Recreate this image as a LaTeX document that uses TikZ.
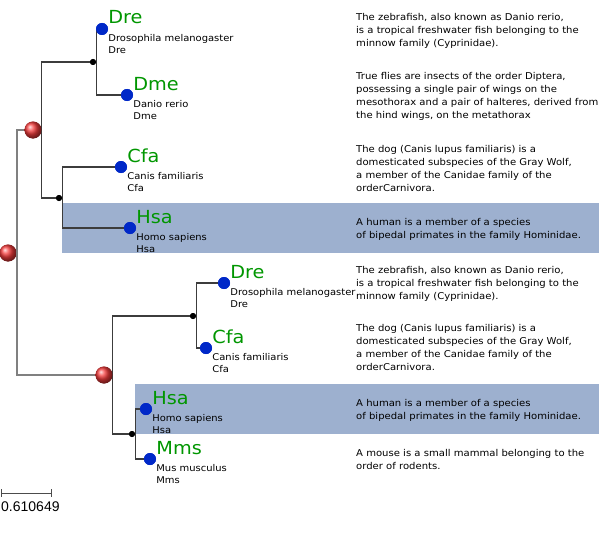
\documentclass[tikz,border=0pt]{standalone}
\usepackage{fontspec}
\setmainfont{DejaVu Sans}
\newfontfamily\widefont[FakeStretch=1.07]{DejaVu Sans}
\newfontfamily\barfont{Liberation Sans}
\usetikzlibrary{positioning}
\definecolor{leafblue}{RGB}{0,40,200}
\definecolor{namegreen}{RGB}{0,150,0}
\definecolor{hilite}{RGB}{157,176,207}
\definecolor{branch}{RGB}{60,60,60}
\definecolor{dupred}{RGB}{245,60,60}
\begin{document}
\begin{tikzpicture}[x=1pt,y=-1pt,
  leaf/.style={circle,fill=leafblue,inner sep=0,minimum size=12pt},
  spec/.style={circle,fill=black,inner sep=0,minimum size=6pt},
  dup/.style={circle,shading=ball,ball color=dupred,inner sep=0,minimum size=17pt},
  br/.style={draw=branch,line width=1.1pt},
  rootbr/.style={draw=gray,line width=2pt},
  bigname/.style={text=namegreen,font=\widefont\fontsize{18}{18}\selectfont,inner sep=0,anchor=base west},
  info/.style={font=\widefont\fontsize{9.3}{11.5}\selectfont,align=left,inner sep=0,anchor=north west},
  desc/.style={font=\widefont\fontsize{9.4}{13}\selectfont,align=left,inner sep=0,anchor=north west}]
\useasboundingbox (0,0) rectangle (600,535);
% highlighted rows
\fill[hilite] (62,203) rectangle (599,253);
\fill[hilite] (135,384) rectangle (599,434);
% tree nodes
\node[dup] (root) at (8,253) {};
\node[dup] (dupA) at (33,130) {};
\node[dup] (dupB) at (104,375) {};
\node[spec] (spA) at (93,62) {};
\node[spec] (spB) at (59,198) {};
\node[spec] (spC) at (193,316) {};
\node[spec] (spD) at (132,434) {};
\node[leaf] (dreA) at (102,29) {};
\node[leaf] (dmeA) at (127,95) {};
\node[leaf] (cfaA) at (121,167) {};
\node[leaf] (hsaA) at (130,228) {};
\node[leaf] (dreB) at (224,283) {};
\node[leaf] (cfaB) at (206,348) {};
\node[leaf] (hsaB) at (146,409) {};
\node[leaf] (mmsB) at (150,459) {};
% branches
\draw[rootbr] (root.east) |- (dupA) (root.east) |- (dupB);
\draw[br] (dupA.east) |- (spA) (dupA.east) |- (spB);
\draw[br] (spA.east) |- (dreA) (spA.east) |- (dmeA);
\draw[br] (spB.east) |- (cfaA) (spB.east) |- (hsaA);
\draw[br] (dupB.east) |- (spC) (dupB.east) |- (spD);
\draw[br] (spC.east) |- (dreB) (spC.east) |- (cfaB);
\draw[br] (spD.east) |- (hsaB) (spD.east) |- (mmsB);
% nodes again, over the branches
\foreach \d in {root,dupA,dupB}
  \node[dup] at (\d) {};
\foreach \s in {spA,spB,spC,spD}
  \node[spec] at (\s) {};
\foreach \l in {dreA,dmeA,cfaA,hsaA,dreB,cfaB,hsaB,mmsB}
  \node[leaf] at (\l) {};
% leaf labels
\node[bigname] at ([yshift=5pt]dreA.east) {Dre};
\node[info] at ([yshift=-5.4pt]dreA.east) {Drosophila melanogaster\\Dre};
\node[bigname] at ([yshift=5pt]dmeA.east) {Dme};
\node[info] at ([yshift=-5.4pt]dmeA.east) {Danio rerio\\Dme};
\node[bigname] at ([yshift=5pt]cfaA.east) {Cfa};
\node[info] at ([yshift=-5.4pt]cfaA.east) {Canis familiaris\\Cfa};
\node[bigname] at ([yshift=5pt]hsaA.east) {Hsa};
\node[info] at ([yshift=-5.4pt]hsaA.east) {Homo sapiens\\Hsa};
\node[bigname] at ([yshift=5pt]dreB.east) {Dre};
\node[info] at ([yshift=-5.4pt]dreB.east) {Drosophila melanogaster\\Dre};
\node[bigname] at ([yshift=5pt]cfaB.east) {Cfa};
\node[info] at ([yshift=-5.4pt]cfaB.east) {Canis familiaris\\Cfa};
\node[bigname] at ([yshift=5pt]hsaB.east) {Hsa};
\node[info] at ([yshift=-5.4pt]hsaB.east) {Homo sapiens\\Hsa};
\node[bigname] at ([yshift=5pt]mmsB.east) {Mms};
\node[info] at ([yshift=-5.4pt]mmsB.east) {Mus musculus\\Mms};
% descriptions
\node[desc] (descA) at (356,12.9) {The zebrafish, also known as Danio rerio,\\is a tropical freshwater fish belonging to the\\minnow family (Cyprinidae).};
\node[desc] (descB) at (356,71.9) {True flies are insects of the order Diptera,\\possessing a single pair of wings on the\\mesothorax and a pair of halteres, derived from\\the hind wings, on the metathorax};
\node[desc] (descC) at (356,144.9) {The dog (Canis lupus familiaris) is a\\domesticated subspecies of the Gray Wolf,\\a member of the Canidae family of the\\orderCarnivora.};
\node[desc] (descD) at (356,217.9) {A human is a member of a species\\of bipedal primates in the family Hominidae.};
\node[desc] (descE) at (356,265.9) {The zebrafish, also known as Danio rerio,\\is a tropical freshwater fish belonging to the\\minnow family (Cyprinidae).};
\node[desc] (descF) at (356,323.9) {The dog (Canis lupus familiaris) is a\\domesticated subspecies of the Gray Wolf,\\a member of the Canidae family of the\\orderCarnivora.};
\node[desc] (descG) at (356,398.9) {A human is a member of a species\\of bipedal primates in the family Hominidae.};
\node[desc] (descH) at (356,448.9) {A mouse is a small mammal belonging to the\\order of rodents.};
% scale bar
\coordinate (barL) at (1,493);
\coordinate (barR) at (51,493);
\draw[gray!60!black,line width=.8pt] (barL) -- (barR)
  ([yshift=4pt]barL) -- ([yshift=-4pt]barL) ([yshift=4pt]barR) -- ([yshift=-4pt]barR);
\node[font=\barfont\fontsize{14}{14}\selectfont,inner sep=0,anchor=base west] (barT) at (1,511) {0.610649};
\end{tikzpicture}
\end{document}
